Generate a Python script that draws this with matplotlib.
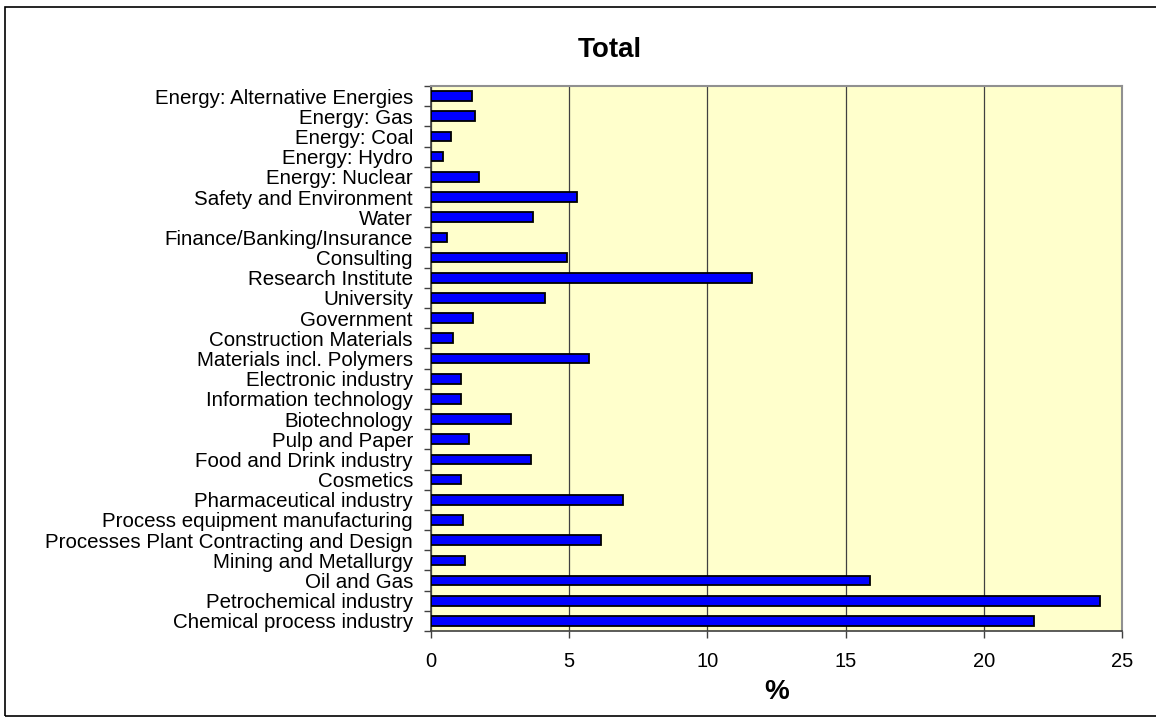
import matplotlib.pyplot as plt
import numpy as np
from matplotlib.patches import Rectangle

plt.rcParams['font.family'] = ['Liberation Sans', 'DejaVu Sans']

# categories from bottom to top
sectors = [
    'Chemical process industry', 'Petrochemical industry', 'Oil and Gas',
    'Mining and Metallurgy', 'Processes Plant Contracting and Design',
    'Process equipment manufacturing', 'Pharmaceutical industry', 'Cosmetics',
    'Food and Drink industry', 'Pulp and Paper', 'Biotechnology',
    'Information technology', 'Electronic industry', 'Materials incl. Polymers',
    'Construction Materials', 'Government', 'University', 'Research Institute',
    'Consulting', 'Finance/Banking/Insurance', 'Water', 'Safety and Environment',
    'Energy: Nuclear', 'Energy: Hydro', 'Energy: Coal', 'Energy: Gas',
    'Energy: Alternative Energies',
]
percent = [
    21.8, 24.2, 15.9, 1.24, 6.15, 1.17, 6.95, 1.08, 3.61, 1.37, 2.90,
    1.08, 1.08, 5.72, 0.81, 1.53, 4.13, 11.6, 4.93, 0.59, 3.70, 5.29,
    1.75, 0.44, 0.73, 1.60, 1.47,
]
xticks = [0, 5, 10, 15, 20, 25]


def main():
    W, H = 1156, 720
    fig = plt.figure(figsize=(W / 100, H / 100), dpi=100)
    ax = fig.add_axes([431 / W, 1 - 631 / H, (1122 - 431) / W, (631 - 86) / H])

    y = np.arange(len(sectors))
    ax.set_facecolor('#FFFFCC')
    ax.barh(y, percent, height=0.48, color='#0000FF', edgecolor='black',
            linewidth=1.3, zorder=3)

    ax.set_xlim(0, 25)
    ax.set_ylim(-0.5, len(sectors) - 0.5)
    ax.set_xticks(xticks)
    ax.set_xticklabels([str(t) for t in xticks], fontsize=14.5)
    ax.set_yticks(y)
    ax.set_yticklabels(sectors, fontsize=14.8)
    ax.tick_params(axis='y', which='major', length=0, pad=13)
    ax.set_yticks(np.arange(len(sectors) + 1) - 0.5, minor=True)
    ax.tick_params(axis='y', which='minor', length=5, width=1, color='#404040')
    ax.tick_params(axis='x', length=5, width=1, color='#404040', pad=10)

    ax.grid(axis='x', color='#404040', linewidth=0.9, zorder=1)
    for s in ['top', 'right']:
        ax.spines[s].set_color('#909090')
        ax.spines[s].set_linewidth(1.5)
    for s in ['left', 'bottom']:
        ax.spines[s].set_color('#404040')
        ax.spines[s].set_linewidth(1.2)

    ax.set_xlabel('%', fontsize=20, fontweight='bold', labelpad=6)
    fig.text(610 / W, 1 - 50 / H, 'Total', fontsize=20, fontweight='bold',
             ha='center', va='center')

    # outer chart frame
    fig.patches.append(Rectangle((5 / W, 4 / H), (1160 - 5) / W, (713 - 4) / H,
                                 transform=fig.transFigure, fill=False,
                                 edgecolor='black', linewidth=1.2))

    fig.savefig('out.png', dpi=100)


if __name__ == '__main__':
    main()
